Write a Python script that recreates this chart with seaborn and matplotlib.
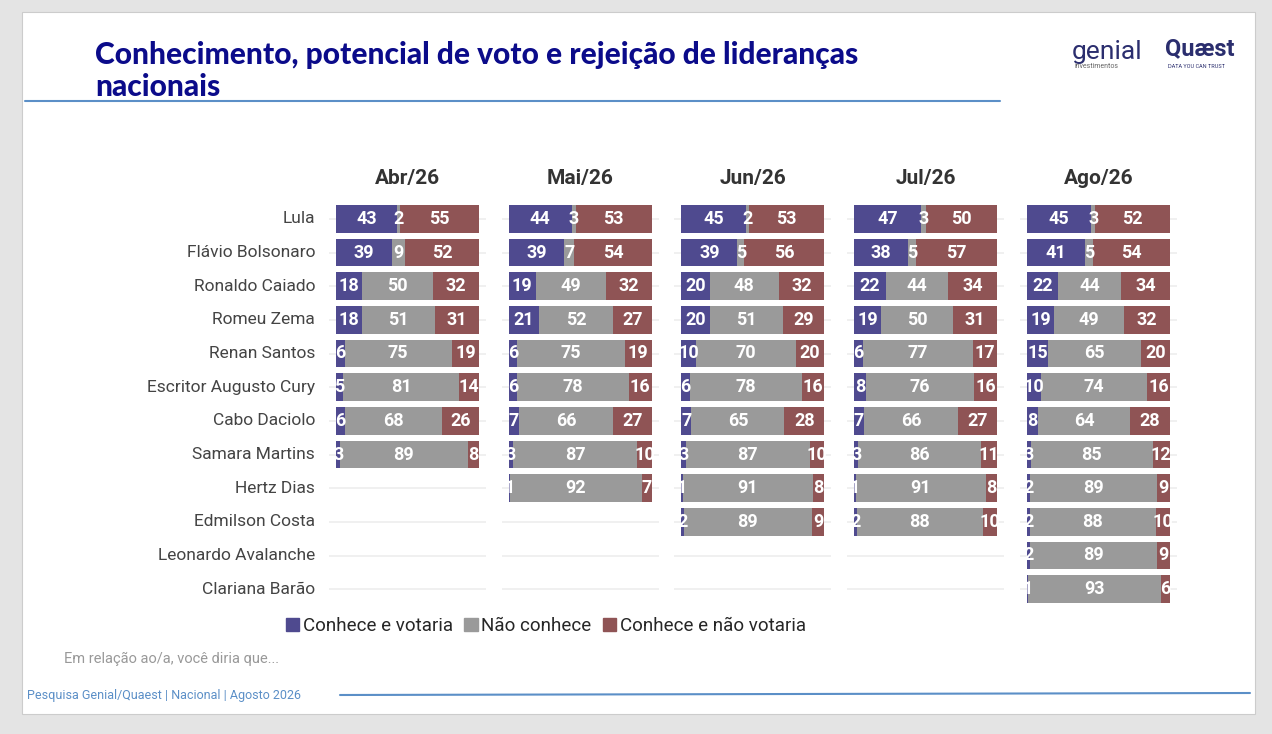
import matplotlib.pyplot as plt
import numpy as np
import pandas as pd
import seaborn as sns
from matplotlib.patches import Rectangle

W, H = 1272, 734
NAMES = ["Lula", "Flávio Bolsonaro", "Ronaldo Caiado", "Romeu Zema", "Renan Santos",
         "Escritor Augusto Cury", "Cabo Daciolo", "Samara Martins", "Hertz Dias",
         "Edmilson Costa", "Leonardo Avalanche", "Clariana Barão"]
MONTHS = ["Abr/26", "Mai/26", "Jun/26", "Jul/26", "Ago/26"]

# (conhece e votaria, não conhece, conhece e não votaria) per month
ABR = [(43, 2, 55), (39, 9, 52), (18, 50, 32), (18, 51, 31), (6, 75, 19), (5, 81, 14),
       (6, 68, 26), (3, 89, 8)]
MAI = [(44, 3, 53), (39, 7, 54), (19, 49, 32), (21, 52, 27), (6, 75, 19), (6, 78, 16),
       (7, 66, 27), (3, 87, 10), (1, 92, 7)]
JUN = [(45, 2, 53), (39, 5, 56), (20, 48, 32), (20, 51, 29), (10, 70, 20), (6, 78, 16),
       (7, 65, 28), (3, 87, 10), (1, 91, 8), (2, 89, 9)]
JUL = [(47, 3, 50), (38, 5, 57), (22, 44, 34), (19, 50, 31), (6, 77, 17), (8, 76, 16),
       (7, 66, 27), (3, 86, 11), (1, 91, 8), (2, 88, 10)]
AGO = [(45, 3, 52), (41, 5, 54), (22, 44, 34), (19, 49, 32), (15, 65, 20), (10, 74, 16),
       (8, 64, 28), (3, 85, 12), (2, 89, 9), (2, 88, 10), (2, 89, 9), (1, 93, 6)]
SERIES = [ABR, MAI, JUN, JUL, AGO]

BLUE, GREY, RED = "#4F4A8F", "#9A9A9A", "#8F5455"
TITLE_C = "#0B0B8A"

sns.set_theme(style="white")
plt.rcParams["font.family"] = ["Roboto", "DejaVu Sans"]

fig = plt.figure(figsize=(W / 100, H / 100), dpi=100)
fig.patch.set_facecolor("#E4E4E4")


def px(x, y):
    return x / W, 1 - y / H


# white card behind everything
card = Rectangle((22 / W, 1 - 714 / H), 1233 / W, 702 / H, transform=fig.transFigure,
                 facecolor="white", edgecolor="#CCCCCC", lw=0.8, zorder=-10)
fig.patches.append(card)

fig.text(*px(95, 71), "Conhecimento, potencial de voto e rejeição de lideranças\nnacionais",
         fontsize=21.5, fontweight="black", family=["Lato", "DejaVu Sans"], color=TITLE_C,
         va="center", ha="left", linespacing=1.2)
fig.add_artist(plt.Line2D([25 / W, 1000 / W], [1 - 101 / H, 1 - 101 / H], color="#5B8FC7",
                          lw=1.5, transform=fig.transFigure))
fig.text(*px(1072, 52), "genial", fontsize=19, color="#2B2E6E", va="center", ha="left")
fig.text(*px(1075, 66), "investimentos", fontsize=5, color="#666666", va="center", ha="left")
fig.text(*px(1165, 49), "Quæst", fontsize=17, fontweight="bold", color="#2B2E6E", va="center", ha="left")
fig.text(*px(1168, 66), "DATA YOU CAN TRUST", fontsize=4, color="#2B2E6E", va="center", ha="left")

PX_PER_UNIT = 1.43
for i, (month, data) in enumerate(zip(MONTHS, SERIES)):
    x0 = 336 + i * 172.7
    left = x0 - 7
    right = x0 + 143 + 7
    ax = fig.add_axes([left / W, 1 - 606 / H, (right - left) / W, 404 / H])
    ax.set_facecolor("none")
    df = pd.DataFrame(data, columns=["vota", "nao", "rej"])
    df["nome"] = NAMES[:len(df)]
    df["c1"] = df["vota"]
    df["c2"] = df["vota"] + df["nao"]
    df["c3"] = df["c2"] + df["rej"]
    for r in range(len(NAMES)):
        ax.axhline(r, color="#EEEEEE", lw=1.2, zorder=0)
    for col, color in [("c3", RED), ("c2", GREY), ("c1", BLUE)]:
        sns.barplot(data=df, x=col, y="nome", order=NAMES, color=color, orient="h",
                    width=0.82, saturation=1, linewidth=0, ax=ax, zorder=2)
    for r, row in df.iterrows():
        for start, val in [(0, row["vota"]), (row["c1"], row["nao"]), (row["c2"], row["rej"])]:
            ax.text(start + val / 2, r, f"{val}", ha="center", va="center", color="white",
                    fontsize=13, fontweight="bold", zorder=3)
    ax.set_xlim(-7 / PX_PER_UNIT, 100 + 7 / PX_PER_UNIT)
    ax.set_ylim(len(NAMES) - 0.5, -0.5)
    ax.axis("off")
    ax.set_title(month, fontsize=15, fontweight="bold", color="#333333", pad=13)
    if i == 0:
        for r, name in enumerate(NAMES):
            ax.text(-7 / PX_PER_UNIT - 14 / PX_PER_UNIT, r, name, ha="right", va="center",
                    fontsize=12.5, color="#444444", clip_on=False)

handles = [Rectangle((0, 0), 1, 1, color=c) for c in (BLUE, GREY, RED)]
fig.legend(handles, ["Conhece e votaria", "Não conhece", "Conhece e não votaria"],
           loc="center", bbox_to_anchor=px(546, 626), ncol=3, frameon=False, fontsize=13.5,
           handlelength=0.7, handleheight=0.7, handletextpad=0.2, columnspacing=0.6)

fig.text(*px(64, 659), "Em relação ao/a, você diria que...", fontsize=10.5, color="#999999",
         va="center", ha="left")
fig.text(*px(27, 696), "Pesquisa Genial/Quaest | Nacional | Agosto 2026", fontsize=9,
         color="#5B8FC7", va="center", ha="left")
fig.add_artist(plt.Line2D([340 / W, 1250 / W], [1 - 695 / H, 1 - 693 / H], color="#5B8FC7",
                          lw=1.5, transform=fig.transFigure))

fig.savefig("out.png", dpi=100)
